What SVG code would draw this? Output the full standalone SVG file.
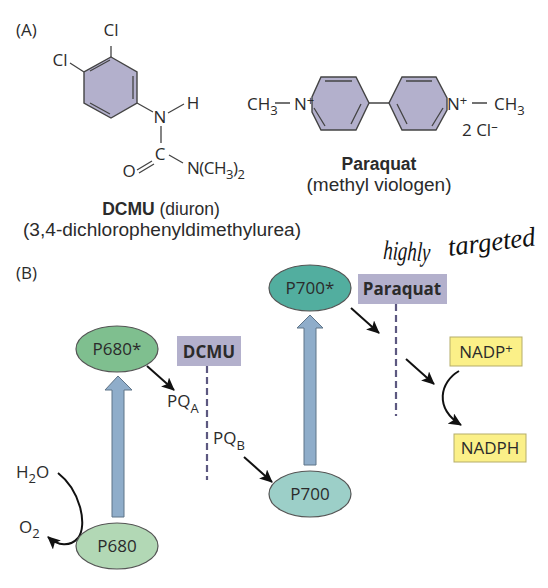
<svg xmlns="http://www.w3.org/2000/svg" width="548" height="588" viewBox="0 0 548 588">
<style>
text{font-family:"Open Sans","Noto Sans","Liberation Sans",sans-serif;font-size:17px;fill:#2b2b2b}
.m{text-anchor:middle}
.b{font-weight:700}
text.cap{font-family:"Liberation Sans","Open Sans",sans-serif;font-size:17.5px}
.sub{font-size:13px}
.bond{stroke:#444;stroke-width:1.3;fill:none}
.ring{fill:#b3b0cc;stroke:#444;stroke-width:1.4}
.node{stroke:#555;stroke-width:1.2}
.up{fill:#8fadca;stroke:#5f7488;stroke-width:1}
.block{fill:#b3b0cc}
.dash{stroke:#5c5880;stroke-width:2.2;stroke-dasharray:7 4;fill:none}
.yel{fill:#fbf088;stroke:#b5ad6a;stroke-width:1}
.arr{stroke:#111;stroke-width:2;fill:none;marker-end:url(#ah)}
.hand{font-family:"Liberation Serif",serif;font-style:italic;font-size:27px;fill:#111}
</style>
<defs>
<marker id="ah" markerUnits="userSpaceOnUse" markerWidth="14" markerHeight="12" refX="12" refY="6" orient="auto"><path d="M0 0L13 6L0 12L3 6Z" fill="#111"/></marker>
</defs>
<rect width="548" height="588" fill="#fff"/>

<g id="dcmu-molecule">
<text x="16" y="36">(A)</text>
<polygon class="ring" points="111,57 137,72 137,103 111,118 84,103 84,72"/>
<path class="bond" d="M111 57V46M84 72L70 63M133 76V99M90 71L110 60M90 103L110 114M137 103L153 112M168 113L184 104M161 126V143M152 161L137 170M154 164L139 173M169 155L183 163"/>
<text class="m" x="111" y="36">Cl</text>
<text class="m" x="60" y="66">Cl</text>
<text class="m" x="160" y="123">N</text>
<text class="m" x="193" y="109">H</text>
<text class="m" x="160" y="160">C</text>
<text class="m" x="129" y="177">O</text>
<text x="187" y="174" textLength="58">N(CH<tspan class="sub" dy="5">3</tspan><tspan dy="-5">)</tspan><tspan class="sub" dy="5">2</tspan></text>
<text class="m cap" x="161" y="215"><tspan class="b">DCMU</tspan> (diuron)</text>
<text class="m cap" x="162" y="236" textLength="278" lengthAdjust="spacingAndGlyphs">(3,4-dichlorophenyldimethylurea)</text>
</g>

<g id="paraquat-molecule">
<polygon class="ring" points="321,77 356,77 369,103 356,130 321,130 312,112 312,97"/>
<polygon class="ring" points="402,77 436,77 447,98 447,110 436,130 402,130 389,103"/>
<path class="bond" d="M325 81H352M361 104L351 124M325 126L314 108M369 103H389M406 81H432M397 104L407 124M432 126L443 108M275 103H290M472 103H487"/>
<text x="247" y="110">CH<tspan class="sub" dy="5">3</tspan></text>
<text x="294" y="110">N<tspan class="sub" dy="-5">+</tspan></text>
<text x="447" y="110">N<tspan class="sub" dy="-5">+</tspan></text>
<text x="494" y="110">CH<tspan class="sub" dy="5">3</tspan></text>
<text x="462" y="136">2 Cl<tspan class="sub" dy="-5">–</tspan></text>
<text class="m b cap" x="379" y="170">Paraquat</text>
<text class="m cap" x="379" y="191" textLength="145" lengthAdjust="spacingAndGlyphs">(methyl viologen)</text>
</g>

<text id="label-b" x="16" y="279">(B)</text>

<g id="handwriting">
<text class="hand" x="383" y="259" textLength="47" lengthAdjust="spacingAndGlyphs" transform="rotate(3 383 259)">highly</text>
<text class="hand" x="449" y="256" textLength="88" lengthAdjust="spacingAndGlyphs" transform="rotate(-7 449 256)">targeted</text>
</g>

<g id="connectors">
<path class="up" d="M112 517V390H105L118 376L132 390H124V517Z"/>
<path class="up" d="M304 465V328H297L310 315L323 328H316V465Z"/>
<path class="dash" d="M207 366V480"/>
<path class="dash" d="M396 304V416"/>
<path class="arr" d="M147 366L174 390"/>
<path class="arr" d="M244 457L272 482"/>
<path class="arr" d="M351 308L379 333"/>
<path class="arr" d="M406 359L434 384"/>
<path class="arr" d="M459 371C440 382 434 408 461 425"/>
<path class="arr" d="M58 473C80 490 88 525 78 538C70 547 58 546 48 537"/>
</g>

<g id="p680-star"><ellipse class="node" cx="117" cy="349" rx="41" ry="23" fill="#7fbf8f"/><text class="m" x="117" y="355">P680*</text></g>
<g id="p680"><ellipse class="node" cx="117" cy="546" rx="41" ry="23" fill="#b2d8b5"/><text class="m" x="117" y="552">P680</text></g>
<g id="p700-star"><ellipse class="node" cx="310" cy="288" rx="41" ry="23" fill="#52ae9f"/><text class="m" x="310" y="294">P700*</text></g>
<g id="p700"><ellipse class="node" cx="310" cy="494" rx="41" ry="23" fill="#9ccfc8"/><text class="m" x="310" y="500">P700</text></g>

<g id="dcmu"><rect class="block" x="177" y="336" width="64" height="30"/><text class="m b" x="209" y="358">DCMU</text></g>
<g id="paraquat"><rect class="block" x="358" y="274" width="89" height="30"/><text class="m b" x="402" y="295">Paraquat</text></g>
<g id="nadp"><rect class="yel" x="450" y="337" width="72" height="29"/><text class="m" x="486" y="358">NADP<tspan class="sub" dy="-5">+</tspan></text></g>
<g id="nadph"><rect class="yel" x="454" y="434" width="72" height="28"/><text class="m" x="490" y="454">NADPH</text></g>

<g id="pqa"><text x="167" y="407">PQ<tspan class="sub" dy="6">A</tspan></text></g>
<g id="pqb"><text x="213" y="444">PQ<tspan class="sub" dy="6">B</tspan></text></g>
<g id="h2o"><text x="16" y="478">H<tspan class="sub" dy="5">2</tspan><tspan dy="-5">O</tspan></text></g>
<g id="o2"><text x="19" y="533">O<tspan class="sub" dy="5">2</tspan></text></g>
</svg>
